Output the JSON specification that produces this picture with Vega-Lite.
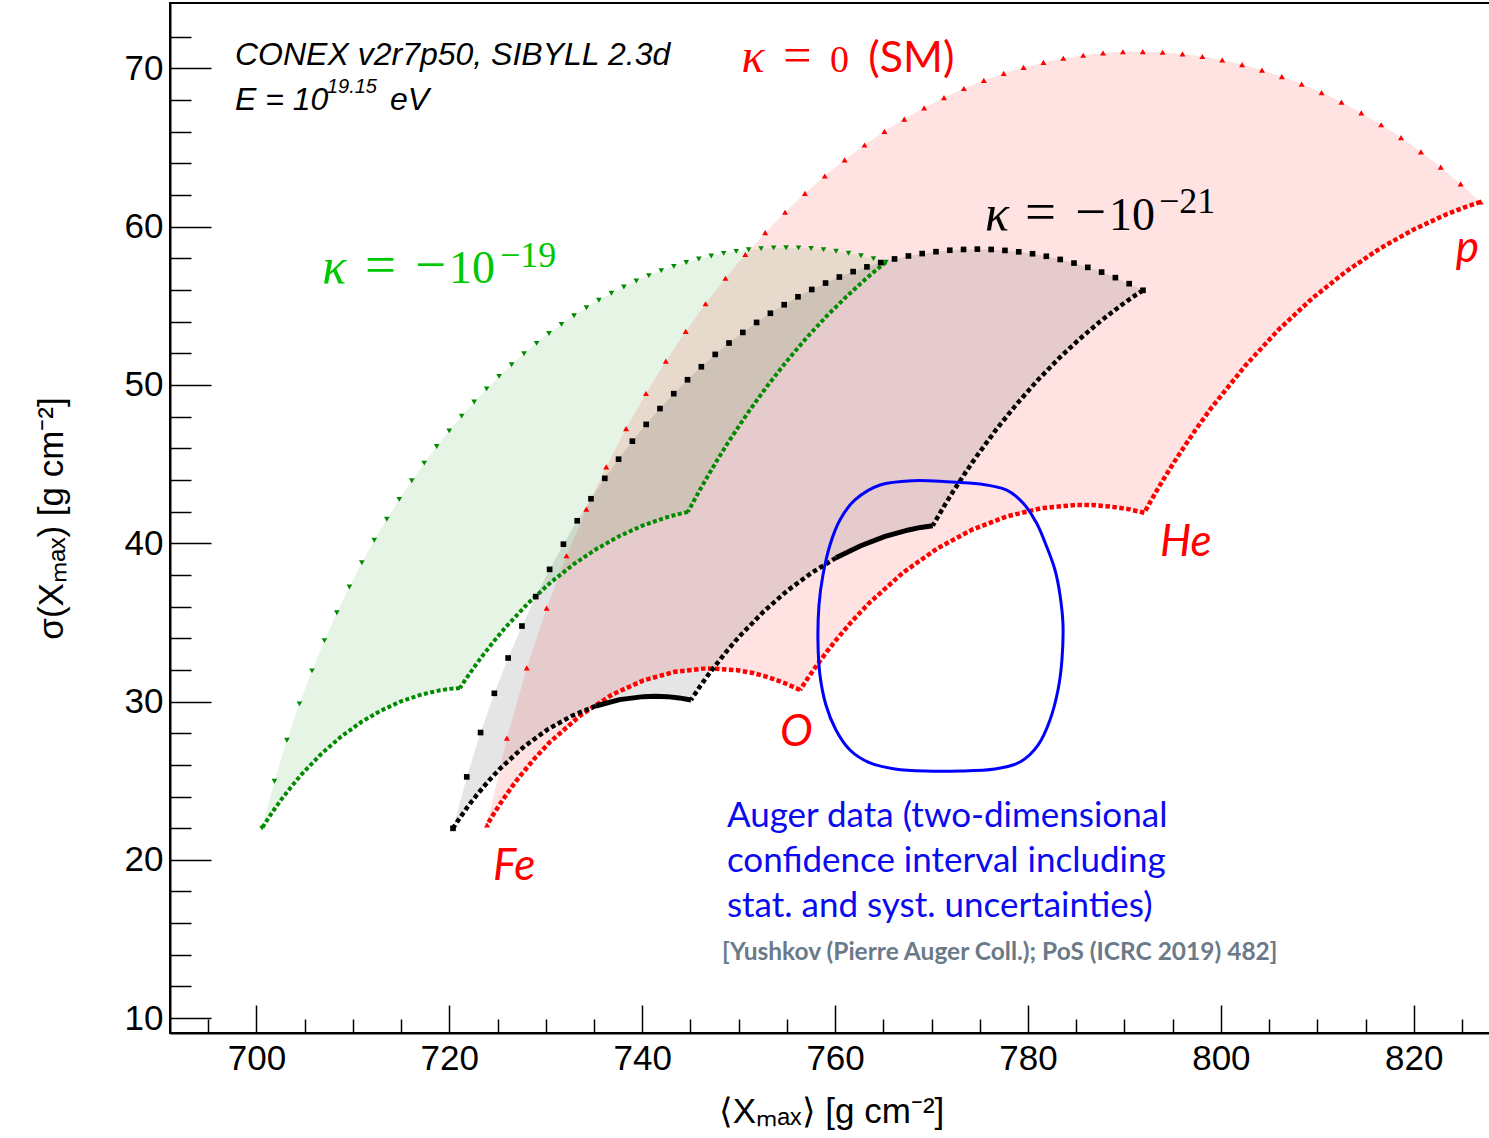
{
"$schema": "https://vega.github.io/schema/vega-lite/v6.json",
"usermeta": {"embedOptions": {"actions": false}},
"autosize": "none",
"padding": {"left": 170, "top": 3, "right": 0, "bottom": 105},
"width": 1322,
"height": 1030,
"background": "white",
"config": {"view": {"stroke": "black", "strokeWidth": 2}},
"datasets": {
"arcs": [
{"k":"r","a":"up","x":723.91,"y":22.2},{"k":"r","a":"up","x":725.97,"y":27.69},{"k":"r","a":"up","x":728.03,"y":32.13},{"k":"r","a":"up","x":730.09,"y":35.9},{"k":"r","a":"up","x":732.15,"y":39.21},{"k":"r","a":"up","x":734.21,"y":42.16},{"k":"r","a":"up","x":736.27,"y":44.82},{"k":"r","a":"up","x":738.33,"y":47.24},{"k":"r","a":"up","x":740.39,"y":49.46},{"k":"r","a":"up","x":742.45,"y":51.5},{"k":"r","a":"up","x":744.51,"y":53.39},{"k":"r","a":"up","x":746.57,"y":55.13},{"k":"r","a":"up","x":748.63,"y":56.74},{"k":"r","a":"up","x":750.69,"y":58.24},{"k":"r","a":"up","x":752.75,"y":59.62},{"k":"r","a":"up","x":754.81,"y":60.91},{"k":"r","a":"up","x":756.87,"y":62.1},{"k":"r","a":"up","x":758.93,"y":63.2},{"k":"r","a":"up","x":760.99,"y":64.22},{"k":"r","a":"up","x":763.05,"y":65.16},{"k":"r","a":"up","x":765.11,"y":66.02},{"k":"r","a":"up","x":767.17,"y":66.8},{"k":"r","a":"up","x":769.23,"y":67.51},{"k":"r","a":"up","x":771.29,"y":68.15},{"k":"r","a":"up","x":773.35,"y":68.73},{"k":"r","a":"up","x":775.42,"y":69.24},{"k":"r","a":"up","x":777.48,"y":69.68},{"k":"r","a":"up","x":779.54,"y":70.06},{"k":"r","a":"up","x":781.6,"y":70.38},{"k":"r","a":"up","x":783.66,"y":70.64},{"k":"r","a":"up","x":785.72,"y":70.83},{"k":"r","a":"up","x":787.78,"y":70.97},{"k":"r","a":"up","x":789.84,"y":71.05},{"k":"r","a":"up","x":791.9,"y":71.06},{"k":"r","a":"up","x":793.96,"y":71.02},{"k":"r","a":"up","x":796.02,"y":70.91},{"k":"r","a":"up","x":798.08,"y":70.75},{"k":"r","a":"up","x":800.14,"y":70.53},{"k":"r","a":"up","x":802.2,"y":70.24},{"k":"r","a":"up","x":804.26,"y":69.89},{"k":"r","a":"up","x":806.32,"y":69.48},{"k":"r","a":"up","x":808.38,"y":69.01},{"k":"r","a":"up","x":810.44,"y":68.47},{"k":"r","a":"up","x":812.5,"y":67.87},{"k":"r","a":"up","x":814.56,"y":67.19},{"k":"r","a":"up","x":816.62,"y":66.44},{"k":"r","a":"up","x":818.68,"y":65.63},{"k":"r","a":"up","x":820.74,"y":64.73},{"k":"r","a":"up","x":822.8,"y":63.76},{"k":"r","a":"up","x":824.86,"y":62.7},{"k":"r","a":"up","x":826.92,"y":61.56},
{"k":"r","a":"hp","x":826.92,"y":61.56},{"k":"r","a":"hp","x":825.18,"y":61.2},{"k":"r","a":"hp","x":823.43,"y":60.79},{"k":"r","a":"hp","x":819.95,"y":59.81},{"k":"r","a":"hp","x":816.46,"y":58.61},{"k":"r","a":"hp","x":812.98,"y":57.17},{"k":"r","a":"hp","x":809.49,"y":55.48},{"k":"r","a":"hp","x":806.0,"y":53.5},{"k":"r","a":"hp","x":802.52,"y":51.21},{"k":"r","a":"hp","x":799.03,"y":48.57},{"k":"r","a":"hp","x":797.29,"y":47.09},{"k":"r","a":"hp","x":795.55,"y":45.5},{"k":"r","a":"hp","x":794.85,"y":44.83},{"k":"r","a":"hp","x":794.15,"y":44.14},{"k":"r","a":"hp","x":793.45,"y":43.43},{"k":"r","a":"hp","x":792.76,"y":42.69},{"k":"r","a":"hp","x":792.06,"y":41.93},
{"k":"r","a":"oh","x":792.06,"y":41.93},{"k":"r","a":"oh","x":790.28,"y":42.17},{"k":"r","a":"oh","x":788.49,"y":42.32},{"k":"r","a":"oh","x":786.71,"y":42.41},{"k":"r","a":"oh","x":784.92,"y":42.42},{"k":"r","a":"oh","x":781.35,"y":42.21},{"k":"r","a":"oh","x":777.78,"y":41.69},{"k":"r","a":"oh","x":774.22,"y":40.86},{"k":"r","a":"oh","x":770.65,"y":39.69},{"k":"r","a":"oh","x":767.08,"y":38.16},{"k":"r","a":"oh","x":763.51,"y":36.21},{"k":"r","a":"oh","x":761.72,"y":35.05},{"k":"r","a":"oh","x":759.94,"y":33.77},{"k":"r","a":"oh","x":759.23,"y":33.21},{"k":"r","a":"oh","x":758.51,"y":32.63},{"k":"r","a":"oh","x":757.8,"y":32.03},{"k":"r","a":"oh","x":757.08,"y":31.39},{"k":"r","a":"oh","x":756.37,"y":30.73},
{"k":"r","a":"fo","x":756.37,"y":30.73},{"k":"r","a":"fo","x":754.75,"y":31.17},{"k":"r","a":"fo","x":753.12,"y":31.53},{"k":"r","a":"fo","x":751.5,"y":31.8},{"k":"r","a":"fo","x":749.88,"y":31.98},{"k":"r","a":"fo","x":746.63,"y":32.1},{"k":"r","a":"fo","x":743.39,"y":31.88},{"k":"r","a":"fo","x":740.14,"y":31.34},{"k":"r","a":"fo","x":736.89,"y":30.44},{"k":"r","a":"fo","x":733.65,"y":29.15},{"k":"r","a":"fo","x":730.4,"y":27.42},{"k":"r","a":"fo","x":728.78,"y":26.36},{"k":"r","a":"fo","x":727.16,"y":25.16},{"k":"r","a":"fo","x":726.51,"y":24.63},{"k":"r","a":"fo","x":725.86,"y":24.07},{"k":"r","a":"fo","x":725.21,"y":23.48},{"k":"r","a":"fo","x":724.56,"y":22.86},{"k":"r","a":"fo","x":723.91,"y":22.2},
{"k":"b","a":"up","x":720.38,"y":21.99},{"k":"b","a":"up","x":721.81,"y":25.24},{"k":"b","a":"up","x":723.24,"y":28.04},{"k":"b","a":"up","x":724.67,"y":30.52},{"k":"b","a":"up","x":726.1,"y":32.75},{"k":"b","a":"up","x":727.53,"y":34.77},{"k":"b","a":"up","x":728.96,"y":36.63},{"k":"b","a":"up","x":730.4,"y":38.35},{"k":"b","a":"up","x":731.83,"y":39.94},{"k":"b","a":"up","x":733.26,"y":41.42},{"k":"b","a":"up","x":734.69,"y":42.81},{"k":"b","a":"up","x":736.12,"y":44.1},{"k":"b","a":"up","x":737.55,"y":45.31},{"k":"b","a":"up","x":738.98,"y":46.45},{"k":"b","a":"up","x":740.41,"y":47.51},{"k":"b","a":"up","x":741.84,"y":48.51},{"k":"b","a":"up","x":743.27,"y":49.45},{"k":"b","a":"up","x":744.7,"y":50.33},{"k":"b","a":"up","x":746.13,"y":51.15},{"k":"b","a":"up","x":747.57,"y":51.93},{"k":"b","a":"up","x":749.0,"y":52.65},{"k":"b","a":"up","x":750.43,"y":53.32},{"k":"b","a":"up","x":751.86,"y":53.95},{"k":"b","a":"up","x":753.29,"y":54.53},{"k":"b","a":"up","x":754.72,"y":55.07},{"k":"b","a":"up","x":756.15,"y":55.57},{"k":"b","a":"up","x":757.58,"y":56.03},{"k":"b","a":"up","x":759.01,"y":56.44},{"k":"b","a":"up","x":760.44,"y":56.82},{"k":"b","a":"up","x":761.87,"y":57.16},{"k":"b","a":"up","x":763.3,"y":57.46},{"k":"b","a":"up","x":764.73,"y":57.73},{"k":"b","a":"up","x":766.16,"y":57.96},{"k":"b","a":"up","x":767.6,"y":58.15},{"k":"b","a":"up","x":769.03,"y":58.3},{"k":"b","a":"up","x":770.46,"y":58.42},{"k":"b","a":"up","x":771.89,"y":58.51},{"k":"b","a":"up","x":773.32,"y":58.56},{"k":"b","a":"up","x":774.75,"y":58.58},{"k":"b","a":"up","x":776.18,"y":58.56},{"k":"b","a":"up","x":777.61,"y":58.5},{"k":"b","a":"up","x":779.04,"y":58.41},{"k":"b","a":"up","x":780.47,"y":58.29},{"k":"b","a":"up","x":781.9,"y":58.13},{"k":"b","a":"up","x":783.34,"y":57.93},{"k":"b","a":"up","x":784.77,"y":57.7},{"k":"b","a":"up","x":786.2,"y":57.43},{"k":"b","a":"up","x":787.63,"y":57.13},{"k":"b","a":"up","x":789.06,"y":56.78},{"k":"b","a":"up","x":790.49,"y":56.4},{"k":"b","a":"up","x":791.92,"y":55.98},
{"k":"b","a":"hp","x":791.92,"y":55.98},{"k":"b","a":"hp","x":790.83,"y":55.54},{"k":"b","a":"hp","x":789.74,"y":55.07},{"k":"b","a":"hp","x":787.56,"y":54.05},{"k":"b","a":"hp","x":785.38,"y":52.92},{"k":"b","a":"hp","x":783.2,"y":51.68},{"k":"b","a":"hp","x":781.02,"y":50.31},{"k":"b","a":"hp","x":778.84,"y":48.8},{"k":"b","a":"hp","x":776.66,"y":47.15},{"k":"b","a":"hp","x":774.48,"y":45.33},{"k":"b","a":"hp","x":773.39,"y":44.35},{"k":"b","a":"hp","x":772.3,"y":43.33},{"k":"b","a":"hp","x":771.86,"y":42.9},{"k":"b","a":"hp","x":771.43,"y":42.47},{"k":"b","a":"hp","x":770.99,"y":42.02},{"k":"b","a":"hp","x":770.56,"y":41.57},{"k":"b","a":"hp","x":770.12,"y":41.11},
{"k":"b","a":"ohs","x":770.12,"y":41.11},{"k":"b","a":"ohs","x":768.87,"y":41.0},{"k":"b","a":"ohs","x":767.61,"y":40.84},{"k":"b","a":"ohs","x":765.11,"y":40.42},{"k":"b","a":"ohs","x":762.6,"y":39.83},{"k":"b","a":"ohs","x":760.1,"y":39.08},
{"k":"b","a":"oh","x":760.1,"y":39.08},{"k":"b","a":"oh","x":757.59,"y":38.14},{"k":"b","a":"oh","x":755.08,"y":37.02},{"k":"b","a":"oh","x":752.58,"y":35.68},{"k":"b","a":"oh","x":750.07,"y":34.11},{"k":"b","a":"oh","x":748.82,"y":33.22},{"k":"b","a":"oh","x":747.57,"y":32.26},{"k":"b","a":"oh","x":747.06,"y":31.86},{"k":"b","a":"oh","x":746.56,"y":31.44},{"k":"b","a":"oh","x":746.06,"y":31.01},{"k":"b","a":"oh","x":745.56,"y":30.56},{"k":"b","a":"oh","x":745.06,"y":30.1},
{"k":"b","a":"fos","x":745.06,"y":30.1},{"k":"b","a":"fos","x":743.83,"y":30.23},{"k":"b","a":"fos","x":742.59,"y":30.31},{"k":"b","a":"fos","x":741.36,"y":30.34},{"k":"b","a":"fos","x":740.12,"y":30.31},{"k":"b","a":"fos","x":737.66,"y":30.12},{"k":"b","a":"fos","x":735.19,"y":29.72},
{"k":"b","a":"fo","x":735.19,"y":29.72},{"k":"b","a":"fo","x":732.72,"y":29.1},{"k":"b","a":"fo","x":730.25,"y":28.26},{"k":"b","a":"fo","x":727.78,"y":27.17},{"k":"b","a":"fo","x":725.32,"y":25.8},{"k":"b","a":"fo","x":724.08,"y":24.99},{"k":"b","a":"fo","x":722.85,"y":24.1},{"k":"b","a":"fo","x":722.35,"y":23.71},{"k":"b","a":"fo","x":721.86,"y":23.31},{"k":"b","a":"fo","x":721.37,"y":22.89},{"k":"b","a":"fo","x":720.87,"y":22.45},{"k":"b","a":"fo","x":720.38,"y":21.99},
{"k":"g","a":"up","x":700.58,"y":22.0},{"k":"g","a":"up","x":701.87,"y":24.96},{"k":"g","a":"up","x":703.16,"y":27.55},{"k":"g","a":"up","x":704.46,"y":29.85},{"k":"g","a":"up","x":705.76,"y":31.94},{"k":"g","a":"up","x":707.05,"y":33.85},{"k":"g","a":"up","x":708.34,"y":35.61},{"k":"g","a":"up","x":709.64,"y":37.24},{"k":"g","a":"up","x":710.93,"y":38.77},{"k":"g","a":"up","x":712.22,"y":40.19},{"k":"g","a":"up","x":713.52,"y":41.52},{"k":"g","a":"up","x":714.81,"y":42.77},{"k":"g","a":"up","x":716.11,"y":43.95},{"k":"g","a":"up","x":717.4,"y":45.06},{"k":"g","a":"up","x":718.69,"y":46.11},{"k":"g","a":"up","x":719.99,"y":47.1},{"k":"g","a":"up","x":721.28,"y":48.03},{"k":"g","a":"up","x":722.58,"y":48.92},{"k":"g","a":"up","x":723.87,"y":49.75},{"k":"g","a":"up","x":725.16,"y":50.54},{"k":"g","a":"up","x":726.46,"y":51.28},{"k":"g","a":"up","x":727.75,"y":51.97},{"k":"g","a":"up","x":729.05,"y":52.63},{"k":"g","a":"up","x":730.34,"y":53.25},{"k":"g","a":"up","x":731.63,"y":53.83},{"k":"g","a":"up","x":732.93,"y":54.37},{"k":"g","a":"up","x":734.22,"y":54.88},{"k":"g","a":"up","x":735.51,"y":55.35},{"k":"g","a":"up","x":736.81,"y":55.79},{"k":"g","a":"up","x":738.1,"y":56.19},{"k":"g","a":"up","x":739.39,"y":56.57},{"k":"g","a":"up","x":740.69,"y":56.91},{"k":"g","a":"up","x":741.98,"y":57.22},{"k":"g","a":"up","x":743.28,"y":57.49},{"k":"g","a":"up","x":744.57,"y":57.74},{"k":"g","a":"up","x":745.87,"y":57.96},{"k":"g","a":"up","x":747.16,"y":58.15},{"k":"g","a":"up","x":748.45,"y":58.31},{"k":"g","a":"up","x":749.75,"y":58.44},{"k":"g","a":"up","x":751.04,"y":58.54},{"k":"g","a":"up","x":752.33,"y":58.61},{"k":"g","a":"up","x":753.63,"y":58.66},{"k":"g","a":"up","x":754.92,"y":58.67},{"k":"g","a":"up","x":756.21,"y":58.66},{"k":"g","a":"up","x":757.51,"y":58.62},{"k":"g","a":"up","x":758.8,"y":58.55},{"k":"g","a":"up","x":760.1,"y":58.45},{"k":"g","a":"up","x":761.39,"y":58.32},{"k":"g","a":"up","x":762.68,"y":58.16},{"k":"g","a":"up","x":763.98,"y":57.98},{"k":"g","a":"up","x":765.27,"y":57.76},
{"k":"g","a":"hp","x":765.27,"y":57.76},{"k":"g","a":"hp","x":764.24,"y":57.25},{"k":"g","a":"hp","x":763.22,"y":56.72},{"k":"g","a":"hp","x":761.17,"y":55.58},{"k":"g","a":"hp","x":759.11,"y":54.34},{"k":"g","a":"hp","x":757.06,"y":52.99},{"k":"g","a":"hp","x":755.01,"y":51.52},{"k":"g","a":"hp","x":752.96,"y":49.93},{"k":"g","a":"hp","x":750.91,"y":48.2},{"k":"g","a":"hp","x":748.85,"y":46.31},{"k":"g","a":"hp","x":747.83,"y":45.3},{"k":"g","a":"hp","x":746.8,"y":44.24},{"k":"g","a":"hp","x":746.39,"y":43.81},{"k":"g","a":"hp","x":745.98,"y":43.37},{"k":"g","a":"hp","x":745.57,"y":42.91},{"k":"g","a":"hp","x":745.16,"y":42.45},{"k":"g","a":"hp","x":744.75,"y":41.98},
{"k":"g","a":"oh","x":744.75,"y":41.98},{"k":"g","a":"oh","x":743.57,"y":41.81},{"k":"g","a":"oh","x":742.39,"y":41.61},{"k":"g","a":"oh","x":740.02,"y":41.11},{"k":"g","a":"oh","x":737.66,"y":40.46},{"k":"g","a":"oh","x":735.29,"y":39.65},{"k":"g","a":"oh","x":732.93,"y":38.69},{"k":"g","a":"oh","x":730.56,"y":37.55},{"k":"g","a":"oh","x":728.2,"y":36.23},{"k":"g","a":"oh","x":725.83,"y":34.69},{"k":"g","a":"oh","x":724.65,"y":33.83},{"k":"g","a":"oh","x":723.47,"y":32.91},{"k":"g","a":"oh","x":722.99,"y":32.52},{"k":"g","a":"oh","x":722.52,"y":32.12},{"k":"g","a":"oh","x":722.05,"y":31.71},{"k":"g","a":"oh","x":721.57,"y":31.29},{"k":"g","a":"oh","x":721.1,"y":30.85},
{"k":"g","a":"fo","x":721.1,"y":30.85},{"k":"g","a":"fo","x":720.07,"y":30.8},{"k":"g","a":"fo","x":719.05,"y":30.71},{"k":"g","a":"fo","x":716.99,"y":30.42},{"k":"g","a":"fo","x":714.94,"y":30.0},{"k":"g","a":"fo","x":712.89,"y":29.42},{"k":"g","a":"fo","x":710.84,"y":28.69},{"k":"g","a":"fo","x":708.79,"y":27.79},{"k":"g","a":"fo","x":706.74,"y":26.7},{"k":"g","a":"fo","x":704.68,"y":25.4},{"k":"g","a":"fo","x":703.66,"y":24.65},{"k":"g","a":"fo","x":702.63,"y":23.85},{"k":"g","a":"fo","x":702.22,"y":23.5},{"k":"g","a":"fo","x":701.81,"y":23.15},{"k":"g","a":"fo","x":701.4,"y":22.78},{"k":"g","a":"fo","x":700.99,"y":22.4},{"k":"g","a":"fo","x":700.58,"y":22.0}
],
"contour": [
{"x":764.66,"y":43.68},{"x":768.08,"y":43.95},{"x":771.57,"y":43.89},{"x":775.03,"y":43.74},{"x":777.79,"y":43.36},{"x":779.51,"y":42.52},{"x":780.9,"y":41.26},{"x":781.94,"y":39.78},{"x":782.8,"y":38.31},{"x":783.32,"y":36.73},{"x":783.63,"y":34.84},{"x":783.52,"y":32.63},{"x":783.11,"y":30.73},{"x":782.28,"y":28.84},{"x":781.04,"y":27.25},{"x":779.17,"y":26.18},{"x":776.58,"y":25.74},{"x":772.95,"y":25.61},{"x":769.32,"y":25.61},{"x":766.21,"y":25.74},{"x":763.62,"y":26.12},{"x":761.54,"y":26.94},{"x":760.09,"y":28.2},{"x":759.05,"y":29.78},{"x":758.43,"y":31.68},{"x":758.22,"y":33.89},{"x":758.33,"y":36.1},{"x":758.74,"y":37.99},{"x":759.47,"y":39.89},{"x":760.5,"y":41.47},{"x":762.06,"y":42.74}
],
"labels": [
{"t":"CONEX v2r7p50, SIBYLL 2.3d","x":697.78,"y":70.21,"g":"info"},
{"t":"E = 10","x":697.78,"y":67.37,"g":"info"},
{"t":"eV","x":713.84,"y":67.37,"g":"info"},
{"t":"19.15","x":707.31,"y":68.45,"g":"sup"},
{"t":"κ","x":750.3,"y":69.79,"g":"kr_k"},
{"t":"=","x":754.63,"y":69.79,"g":"kr_e"},
{"t":"0","x":759.47,"y":69.79,"g":"kr_n"},
{"t":"(SM)","x":763.44,"y":69.79,"g":"kr_sm"},
{"t":"κ","x":775.54,"y":59.79,"g":"kb_k"},
{"t":"=","x":779.69,"y":59.79,"g":"kb_e"},
{"t":"−","x":784.87,"y":59.79,"g":"kb_e"},
{"t":"10","x":788.4,"y":59.79,"g":"kb_n"},
{"t":"−21","x":793.58,"y":60.86,"g":"kb_s"},
{"t":"κ","x":706.83,"y":56.44,"g":"kg_k"},
{"t":"=","x":711.25,"y":56.44,"g":"kg_e"},
{"t":"−","x":716.44,"y":56.44,"g":"kg_e"},
{"t":"10","x":719.97,"y":56.44,"g":"kg_n"},
{"t":"−19","x":725.25,"y":57.47,"g":"kg_s"},
{"t":"p","x":824.36,"y":57.76,"g":"el"},
{"t":"He","x":793.68,"y":39.19,"g":"el"},
{"t":"O","x":754.28,"y":27.2,"g":"el"},
{"t":"Fe","x":724.53,"y":18.73,"g":"el"},
{"t":"Auger data (two-dimensional","x":748.78,"y":22.08,"g":"auger"},
{"t":"confidence interval including","x":748.78,"y":19.24,"g":"auger"},
{"t":"stat. and syst. uncertainties)","x":748.78,"y":16.4,"g":"auger"},
{"t":"[Yushkov (Pierre Auger Coll.); PoS (ICRC 2019) 482]","x":748.27,"y":13.66,"g":"cite"}
]
},
"encoding": {
"x": {"field": "x", "type": "quantitative", "scale": {"domain": [691.04, 828.11], "nice": false, "zero": false},
 "axis": {"values": [695,700,705,710,715,720,725,730,735,740,745,750,755,760,765,770,775,780,785,790,795,800,805,810,815,820,825],
  "format": "d", "labelExpr": "datum.value % 20 === 0 ? datum.label : ''",
  "tickSize": {"condition": {"test": "datum.value % 20 === 0", "value": -28}, "value": -14},
  "tickColor": "black", "tickWidth": 1.5, "domainColor": "black", "domainWidth": 2, "grid": false,
  "labelFont": "Liberation Sans", "labelFontSize": 35, "labelColor": "black", "labelPadding": 36, "labelFlush": false, "labelOverlap": false,
  "title": "⟨Xₘₐₓ⟩ [g cm⁻²]", "titleFont": "Liberation Sans", "titleFontSize": 35, "titleFontWeight": "normal", "titleColor": "black", "titlePadding": 4}},
"y": {"field": "y", "type": "quantitative", "scale": {"domain": [9.06, 74.13], "nice": false, "zero": false},
 "axis": {"values": [10,12,14,16,18,20,22,24,26,28,30,32,34,36,38,40,42,44,46,48,50,52,54,56,58,60,62,64,66,68,70,72],
  "format": "d", "labelExpr": "datum.value % 10 === 0 ? datum.label : ''",
  "tickSize": {"condition": {"test": "datum.value % 10 === 0", "value": -41}, "value": -21},
  "tickColor": "black", "tickWidth": 1.5, "domainColor": "black", "domainWidth": 2, "grid": false,
  "labelFont": "Liberation Sans", "labelFontSize": 35, "labelColor": "black", "labelPadding": 48, "labelFlush": false, "labelOverlap": false,
  "title": "σ(Xₘₐₓ) [g cm⁻²]", "titleFont": "Liberation Sans", "titleFontSize": 35, "titleFontWeight": "normal", "titleColor": "black", "titlePadding": 55}}
},
"layer": [
{"data": {"name": "arcs"}, "transform": [{"filter": "datum.k === 'g'"}], "mark": {"type": "line", "fill": "#009000", "fillOpacity": 0.1, "strokeOpacity": 0}, "encoding": {"order": {"value": null}}},
{"data": {"name": "arcs"}, "transform": [{"filter": "datum.k === 'r'"}], "mark": {"type": "line", "fill": "#ff0000", "fillOpacity": 0.11, "strokeOpacity": 0}, "encoding": {"order": {"value": null}}},
{"data": {"name": "arcs"}, "transform": [{"filter": "datum.k === 'b'"}], "mark": {"type": "line", "fill": "#000000", "fillOpacity": 0.1, "strokeOpacity": 0}, "encoding": {"order": {"value": null}}},
{"data": {"name": "arcs"}, "transform": [{"filter": "datum.k === 'g' && datum.a !== 'up'"}], "mark": {"type": "line", "stroke": "#008a00", "strokeWidth": 4, "strokeDash": [4, 2.5]}, "encoding": {"detail": {"field": "a"}, "order": {"value": null}}},
{"data": {"name": "arcs"}, "transform": [{"filter": "datum.k === 'g' && datum.a === 'up'"}], "mark": {"type": "point", "shape": "triangle-down", "filled": true, "size": 32, "color": "#008a00", "opacity": 1}},
{"data": {"name": "arcs"}, "transform": [{"filter": "datum.k === 'r' && datum.a !== 'up'"}], "mark": {"type": "line", "stroke": "#ff0000", "strokeWidth": 4.5, "strokeDash": [4.5, 2.5]}, "encoding": {"detail": {"field": "a"}, "order": {"value": null}}},
{"data": {"name": "arcs"}, "transform": [{"filter": "datum.k === 'r' && datum.a === 'up'"}], "mark": {"type": "point", "shape": "triangle-up", "filled": true, "size": 36, "color": "#ff0000", "opacity": 1}},
{"data": {"name": "arcs"}, "transform": [{"filter": "datum.k === 'b' && (datum.a === 'fo' || datum.a === 'oh' || datum.a === 'hp')"}], "mark": {"type": "line", "stroke": "#000000", "strokeWidth": 4.5, "strokeDash": [4.5, 3]}, "encoding": {"detail": {"field": "a"}, "order": {"value": null}}},
{"data": {"name": "arcs"}, "transform": [{"filter": "datum.k === 'b' && (datum.a === 'fos' || datum.a === 'ohs')"}], "mark": {"type": "line", "stroke": "#000000", "strokeWidth": 5}, "encoding": {"detail": {"field": "a"}, "order": {"value": null}}},
{"data": {"name": "arcs"}, "transform": [{"filter": "datum.k === 'b' && datum.a === 'up'"}], "mark": {"type": "point", "shape": "square", "filled": true, "size": 32, "color": "#000000", "opacity": 1}},
{"data": {"name": "contour"}, "mark": {"type": "line", "stroke": "#0000ff", "strokeWidth": 3, "interpolate": "cardinal-closed"}, "encoding": {"order": {"value": null}}},
{"data": {"name": "labels"}, "transform": [{"filter": "datum.g === 'info'"}], "mark": {"type": "text", "align": "left", "baseline": "alphabetic", "font": "Liberation Sans", "fontStyle": "italic", "fontSize": 32, "color": "black"}, "encoding": {"text": {"field": "t"}}},
{"data": {"name": "labels"}, "transform": [{"filter": "datum.g === 'sup'"}], "mark": {"type": "text", "align": "left", "baseline": "alphabetic", "font": "Liberation Sans", "fontStyle": "italic", "fontSize": 20, "color": "black"}, "encoding": {"text": {"field": "t"}}},
{"data": {"name": "labels"}, "transform": [{"filter": "datum.g === 'kr_k'"}], "mark": {"type": "text", "align": "left", "baseline": "alphabetic", "font": "Liberation Serif", "fontStyle": "italic", "fontSize": 48, "color": "#ff0000"}, "encoding": {"text": {"field": "t"}}},
{"data": {"name": "labels"}, "transform": [{"filter": "datum.g === 'kr_e'"}], "mark": {"type": "text", "align": "left", "baseline": "alphabetic", "font": "Liberation Serif", "fontSize": 50, "color": "#ff0000"}, "encoding": {"text": {"field": "t"}}},
{"data": {"name": "labels"}, "transform": [{"filter": "datum.g === 'kr_n'"}], "mark": {"type": "text", "align": "left", "baseline": "alphabetic", "font": "Liberation Serif", "fontSize": 38, "color": "#ff0000"}, "encoding": {"text": {"field": "t"}}},
{"data": {"name": "labels"}, "transform": [{"filter": "datum.g === 'kr_sm'"}], "mark": {"type": "text", "align": "left", "baseline": "alphabetic", "font": "Lato", "fontSize": 43, "color": "#ff0000"}, "encoding": {"text": {"field": "t"}}},
{"data": {"name": "labels"}, "transform": [{"filter": "datum.g === 'kb_k'"}], "mark": {"type": "text", "align": "left", "baseline": "alphabetic", "font": "Liberation Serif", "fontStyle": "italic", "fontSize": 50, "color": "black"}, "encoding": {"text": {"field": "t"}}},
{"data": {"name": "labels"}, "transform": [{"filter": "datum.g === 'kb_e'"}], "mark": {"type": "text", "align": "left", "baseline": "alphabetic", "font": "Liberation Serif", "fontSize": 55, "color": "black"}, "encoding": {"text": {"field": "t"}}},
{"data": {"name": "labels"}, "transform": [{"filter": "datum.g === 'kb_n'"}], "mark": {"type": "text", "align": "left", "baseline": "alphabetic", "font": "Liberation Serif", "fontSize": 46, "color": "black"}, "encoding": {"text": {"field": "t"}}},
{"data": {"name": "labels"}, "transform": [{"filter": "datum.g === 'kb_s'"}], "mark": {"type": "text", "align": "left", "baseline": "alphabetic", "font": "Liberation Serif", "fontSize": 36, "color": "black"}, "encoding": {"text": {"field": "t"}}},
{"data": {"name": "labels"}, "transform": [{"filter": "datum.g === 'kg_k'"}], "mark": {"type": "text", "align": "left", "baseline": "alphabetic", "font": "Liberation Serif", "fontStyle": "italic", "fontSize": 50, "color": "#00c800"}, "encoding": {"text": {"field": "t"}}},
{"data": {"name": "labels"}, "transform": [{"filter": "datum.g === 'kg_e'"}], "mark": {"type": "text", "align": "left", "baseline": "alphabetic", "font": "Liberation Serif", "fontSize": 55, "color": "#00c800"}, "encoding": {"text": {"field": "t"}}},
{"data": {"name": "labels"}, "transform": [{"filter": "datum.g === 'kg_n'"}], "mark": {"type": "text", "align": "left", "baseline": "alphabetic", "font": "Liberation Serif", "fontSize": 46, "color": "#00c800"}, "encoding": {"text": {"field": "t"}}},
{"data": {"name": "labels"}, "transform": [{"filter": "datum.g === 'kg_s'"}], "mark": {"type": "text", "align": "left", "baseline": "alphabetic", "font": "Liberation Serif", "fontSize": 36, "color": "#00c800"}, "encoding": {"text": {"field": "t"}}},
{"data": {"name": "labels"}, "transform": [{"filter": "datum.g === 'el'"}], "mark": {"type": "text", "align": "left", "baseline": "alphabetic", "font": "Lato", "fontStyle": "italic", "fontSize": 44, "color": "#ff0000"}, "encoding": {"text": {"field": "t"}}},
{"data": {"name": "labels"}, "transform": [{"filter": "datum.g === 'auger'"}], "mark": {"type": "text", "align": "left", "baseline": "alphabetic", "font": "Lato", "fontSize": 35, "color": "#0a0af0"}, "encoding": {"text": {"field": "t"}}},
{"data": {"name": "labels"}, "transform": [{"filter": "datum.g === 'cite'"}], "mark": {"type": "text", "align": "left", "baseline": "alphabetic", "font": "Lato", "fontWeight": "bold", "fontSize": 24.5, "color": "#6b7a88"}, "encoding": {"text": {"field": "t"}}}
]
}
